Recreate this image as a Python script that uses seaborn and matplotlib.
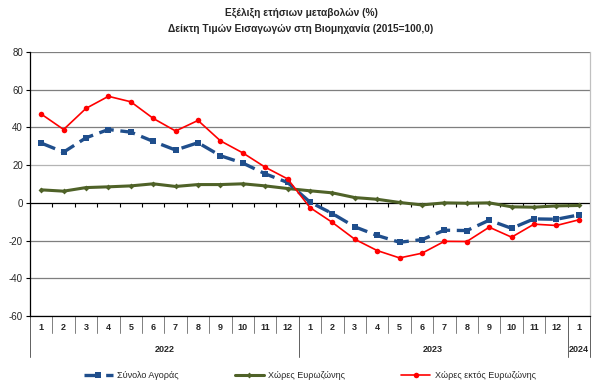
import pandas as pd
import numpy as np
import matplotlib
matplotlib.use('Agg')
import matplotlib.pyplot as plt
import matplotlib.transforms as mtransforms
import seaborn as sns

# Τιμές (ετήσιες μεταβολές %)
minas = ['1', '2', '3', '4', '5', '6', '7', '8', '9', '10', '11', '12',
         '1', '2', '3', '4', '5', '6', '7', '8', '9', '10', '11', '12', '1']
eti = ['2022', '2023', '2024']
synolo = [31.7, 26.9, 34.5, 38.9, 37.5, 32.6, 28.0, 31.9, 25.0, 21.1, 15.4, 10.8,
          0.4, -5.7, -12.7, -17.3, -20.9, -19.5, -14.5, -14.7, -9.2, -13.5, -8.5, -8.7, -6.4]
eurozoni = [6.9, 6.2, 8.1, 8.5, 9.0, 10.1, 8.7, 9.7, 9.7, 10.1, 9.0, 7.6,
            6.4, 5.3, 2.8, 1.9, 0.2, -1.1, 0.0, -0.2, 0.0, -2.1, -2.3, -1.6, -1.4]
ektos = [47.1, 38.9, 50.1, 56.5, 53.6, 44.8, 38.1, 43.7, 32.9, 26.5, 18.9, 12.7,
         -2.5, -10.4, -19.3, -25.3, -29.2, -26.7, -20.4, -20.5, -12.9, -18.2, -11.3, -12.0, -9.0]

df = pd.DataFrame({'x': np.arange(len(minas)), 'synolo': synolo,
                   'eurozoni': eurozoni, 'ektos': ektos})

sns.set_style('white')
plt.rcParams['font.family'] = ['Liberation Sans', 'DejaVu Sans']
plt.rcParams['axes.unicode_minus'] = False

fig = plt.figure(figsize=(5.96, 3.88), dpi=100)
ax = fig.add_axes([30 / 596, 1 - 316 / 388, 560 / 596, 264 / 388])

# γραμμές
sns.lineplot(data=df, x='x', y='synolo', ax=ax, color='#1F4E8C', lw=2.4,
             marker='s', markersize=4, markeredgewidth=0,
             label='Σύνολο Αγοράς', zorder=4)
ax.lines[-1].set_dashes([4.5, 2])
sns.lineplot(data=df, x='x', y='eurozoni', ax=ax, color='#4F6228', lw=2.2,
             marker='D', markersize=3, markeredgewidth=0,
             label='Χώρες Ευρωζώνης', zorder=3)
sns.lineplot(data=df, x='x', y='ektos', ax=ax, color='#FF0000', lw=1.2,
             marker='o', markersize=4, markeredgewidth=0,
             label='Χώρες εκτός Ευρωζώνης', zorder=5)

ax.set_xlim(-0.5, len(minas) - 0.5)
ax.set_ylim(-60, 80)
ax.set_yticks(range(-60, 81, 20))
ax.tick_params(axis='y', labelsize=7, length=3, width=0.8, color='black', pad=2, left=True)
ax.set_xticks([])
ax.set_xlabel('')
ax.set_ylabel('')

# πλέγμα
for v in range(-60, 81, 20):
    if v == 0:
        continue
    c = '#b4b4b4' if v == 20 else '#7f7f7f'
    ax.axhline(v, color=c, lw=0.9, zorder=1)
ax.axhline(0, color='black', lw=0.9, zorder=2)
oria = np.arange(-0.5, len(minas), 1.0)
ax.vlines(oria, -2.2, 0, color='black', lw=0.8, zorder=2)

ax.spines['top'].set_visible(False)
ax.spines['right'].set_color('#c0c0c0')
ax.spines['left'].set_color('black')
ax.spines['bottom'].set_color('black')
for s in ax.spines.values():
    s.set_linewidth(0.9)

# άξονας κατηγοριών (μήνες / έτη)
trans = mtransforms.blended_transform_factory(ax.transData, ax.transAxes)
def ypx(px):
    return -px / 264

for i, m in enumerate(minas):
    ax.text(i, ypx(12), m, transform=trans, ha='center', va='center',
            fontsize=6.5, fontweight='bold')
megala = [-0.5, 11.5, 23.5, 24.5]
for b in oria:
    low = ypx(41) if b in megala else ypx(17)
    ax.plot([b, b], [0, low], transform=trans, color='#808080' if b not in megala else '#606060',
            lw=0.7, clip_on=False)
kentra = [5.5, 17.5, 24]
for k, e in zip(kentra, eti):
    ax.text(k, ypx(34), e, transform=trans, ha='center', va='center',
            fontsize=6.5, fontweight='bold')

# τίτλος
fig.text(0.505, 1 - 13 / 388, 'Εξέλιξη ετήσιων μεταβολών (%)', ha='center', va='center',
         fontsize=7.3, fontweight='bold')
fig.text(0.505, 1 - 29 / 388, 'Δείκτη Τιμών Εισαγωγών στη Βιομηχανία (2015=100,0)',
         ha='center', va='center', fontsize=7.3, fontweight='bold')

ax.get_legend().remove()
hnd, lab = ax.get_legend_handles_labels()
fig.legend(hnd, lab, loc='center', bbox_to_anchor=(0.52, 1 - 376 / 388), ncol=3,
           frameon=False, fontsize=6.5, handlelength=3.2, columnspacing=6.2, handletextpad=0.5)

fig.savefig('out.png', dpi=100)
